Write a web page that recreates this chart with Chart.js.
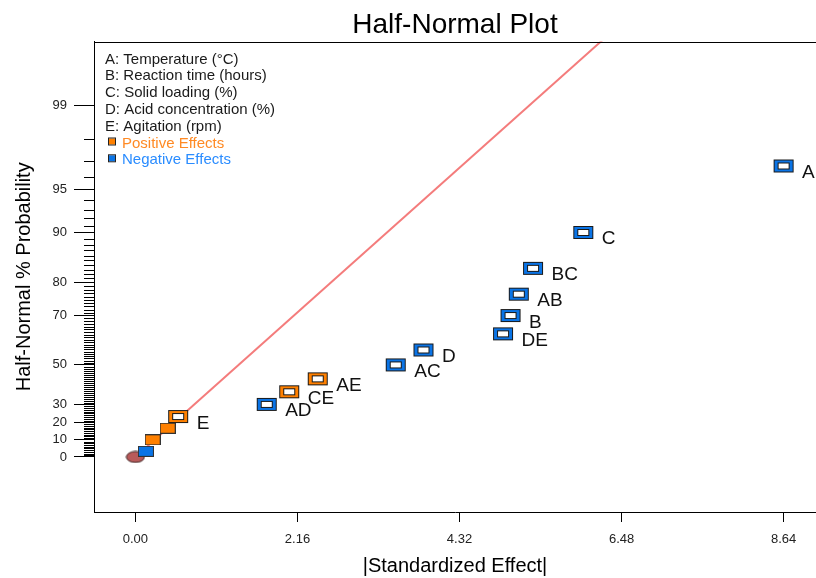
<!DOCTYPE html>
<html lang="en">
<head>
    <meta charset="UTF-8">
    <title>Half-Normal Plot</title>
    <script src="https://cdn.jsdelivr.net/npm/chart.js"></script>
    <style>
        body { margin: 0; background: #fff; }
        canvas { display: block; }
    </style>
</head>
<body>
    <canvas id="halfNormal" width="816" height="578"></canvas>

    <script>
        // effects (|standardized effect| and half-normal % probability)
        const effectNames = ['', '', '', 'E', 'AD', 'CE', 'AE', 'AC', 'D', 'DE', 'B', 'AB', 'BC', 'C', 'A'];
        const effectSize = [0.14, 0.23, 0.43, 0.57, 1.75, 2.05, 2.43, 3.47, 3.84, 4.90, 5.00, 5.11, 5.30, 5.97, 8.64];
        const effectProb = [3.3, 10.0, 16.7, 23.3, 30.0, 36.7, 43.3, 50.0, 56.7, 63.3, 70.0, 76.7, 83.3, 90.0, 96.7];
        const effectSign = ['-', '+', '+', '+', '-', '+', '+', '-', '-', '-', '-', '-', '-', '-', '-'];

        // error estimate at the origin
        const errorSize = [0.0];
        const errorProb = [0.0];

        // reference line
        const refLineSize = [0, 6.3];
        const refLineProb = [0, 99.8];

        const xTickValues = [0, 2.16, 4.32, 6.48, 8.64];
        const yTickLabels = [0, 10, 20, 30, 50, 70, 80, 90, 95, 99];

        const factorLegend = [
            'A: Temperature (°C)',
            'B: Reaction time (hours)',
            'C: Solid loading (%)',
            'D: Acid concentration (%)',
            'E: Agitation (rpm)'
        ];

        const FONT = '"Liberation Sans", Arial, sans-serif';
        const ORANGE = '#ff8000';
        const BLUE = '#0a74e6';

        // normal cdf (Abramowitz-Stegun) and half-normal quantile, p in %
        function normCdf(z) {
            const t = 1 / (1 + 0.3275911 * Math.abs(z) / Math.SQRT2);
            const y = 1 - (((((1.061405429 * t - 1.453152027) * t) + 1.421413741) * t - 0.284496736) * t + 0.254829592) * t * Math.exp(-z * z / 2);
            return z >= 0 ? 0.5 * (1 + y) : 0.5 * (1 - y);
        }
        function zOf(p) {
            const target = 0.5 + p / 200;
            let lo = 0, hi = 6;
            for (let i = 0; i < 60; i++) {
                const mid = (lo + hi) / 2;
                if (normCdf(mid) < target) lo = mid; else hi = mid;
            }
            return (lo + hi) / 2;
        }

        // marker images
        function openMarker(color) {
            const c = document.createElement('canvas');
            c.width = 22; c.height = 15;
            const g = c.getContext('2d');
            g.fillStyle = color;
            g.fillRect(1, 1, 20, 13);
            g.strokeStyle = '#1a1a1a';
            g.lineWidth = 1;
            g.strokeRect(1.5, 1.5, 19, 12);
            g.fillStyle = '#fff';
            g.fillRect(5, 4, 12, 7);
            g.strokeRect(5.5, 4.5, 11, 6);
            return c;
        }
        function filledMarker(color) {
            const c = document.createElement('canvas');
            c.width = 16; c.height = 11;
            const g = c.getContext('2d');
            g.fillStyle = color;
            g.fillRect(0, 0, 16, 11);
            g.strokeStyle = '#333';
            g.lineWidth = 1;
            g.strokeRect(0.5, 0.5, 15, 10);
            return c;
        }
        function ellipseMarker() {
            const c = document.createElement('canvas');
            c.width = 20; c.height = 13;
            const g = c.getContext('2d');
            g.beginPath();
            g.ellipse(10, 6.5, 9, 5.5, 0, 0, Math.PI * 2);
            g.fillStyle = '#b85a5a';
            g.fill();
            g.strokeStyle = '#3a2222';
            g.lineWidth = 1;
            g.stroke();
            return c;
        }
        const markers = {
            openPos: openMarker(ORANGE), openNeg: openMarker(BLUE),
            fillPos: filledMarker(ORANGE), fillNeg: filledMarker(BLUE),
            error: ellipseMarker()
        };

        // point labels, legend text, minor ticks and frame
        const decorations = {
            id: 'decorations',
            afterDraw(chart) {
                const ctx = chart.ctx;
                const area = chart.chartArea;
                const yScale = chart.scales.y;
                ctx.save();

                // top frame line
                ctx.strokeStyle = '#000';
                ctx.lineWidth = 1;
                ctx.beginPath();
                ctx.moveTo(area.left, Math.round(area.top) + 0.5);
                ctx.lineTo(area.right, Math.round(area.top) + 0.5);
                ctx.stroke();

                // minor probability ticks (every 1%)
                ctx.beginPath();
                for (let p = 1; p <= 98; p++) {
                    if (yTickLabels.includes(p)) continue;
                    const py = Math.round(yScale.getPixelForValue(zOf(p))) + 0.5;
                    ctx.moveTo(area.left - 10, py);
                    ctx.lineTo(area.left, py);
                }
                ctx.stroke();

                // effect labels
                const meta = chart.getDatasetMeta(1);
                ctx.font = '19px ' + FONT;
                ctx.fillStyle = '#111';
                ctx.textAlign = 'left';
                ctx.textBaseline = 'alphabetic';
                meta.data.forEach((pt, i) => {
                    if (effectNames[i]) ctx.fillText(effectNames[i], pt.x + 18.5, pt.y + 12);
                });

                // legend block
                ctx.font = '15px ' + FONT;
                const lx = 105, ly = 63.5, step = 16.8;
                factorLegend.forEach((t, i) => {
                    ctx.fillStyle = '#1a1a1a';
                    ctx.fillText(t, lx, ly + i * step);
                });
                [['Positive Effects', ORANGE, '#ff8a24'], ['Negative Effects', BLUE, '#2a8cff']].forEach((item, k) => {
                    const by = ly + (5 + k) * step;
                    ctx.fillStyle = item[1];
                    ctx.fillRect(109, by - 9, 6, 6);
                    ctx.strokeStyle = '#222';
                    ctx.strokeRect(108.5, by - 9.5, 7, 7);
                    ctx.fillStyle = item[2];
                    ctx.fillText(item[0], 122, by);
                });
                ctx.restore();
            }
        };

        const effectPoints = effectSize.map((x, i) => ({ x: x, y: zOf(effectProb[i]) }));
        const errorPoints = errorSize.map((x, i) => ({ x: x, y: zOf(errorProb[i]) }));
        const linePoints = refLineSize.map((x, i) => ({ x: x, y: zOf(refLineProb[i]) }));

        new Chart(document.getElementById('halfNormal'), {
            type: 'scatter',
            data: {
                datasets: [
                    {
                        type: 'line', data: linePoints, order: 3,
                        borderColor: '#f47c7c', borderWidth: 2, pointRadius: 0, fill: false
                    },
                    {
                        data: effectPoints, order: 1, pointRadius: 10,
                        pointStyle: ctx => {
                            const i = ctx.dataIndex;
                            const pos = effectSign[i] === '+';
                            if (effectNames[i]) return pos ? markers.openPos : markers.openNeg;
                            return pos ? markers.fillPos : markers.fillNeg;
                        }
                    },
                    {
                        data: errorPoints, order: 2, pointRadius: 10, pointStyle: markers.error
                    }
                ]
            },
            options: {
                responsive: false,
                animation: false,
                layout: { padding: 0, autoPadding: false },
                plugins: {
                    legend: { display: false },
                    tooltip: { enabled: false },
                    title: {
                        display: true, text: 'Half-Normal Plot', fullSize: false,
                        color: '#000', font: { family: FONT, size: 28, weight: 'normal' },
                        padding: { top: 8, bottom: 0 }
                    }
                },
                scales: {
                    x: {
                        type: 'linear', min: -0.552, max: 9.072,
                        afterFit: s => { s.height = 66; },
                        afterBuildTicks: s => { s.ticks = xTickValues.map(v => ({ value: v })); },
                        grid: { drawOnChartArea: false, tickLength: 10, tickColor: '#000' },
                        border: { display: true, color: '#000', width: 1 },
                        ticks: {
                            autoSkip: false, maxRotation: 0, padding: 10, color: '#222',
                            font: { family: FONT, size: 13 },
                            callback: v => v.toFixed(2)
                        },
                        title: {
                            display: true, text: '|Standardized Effect|', color: '#000',
                            font: { family: FONT, size: 20 }, padding: { top: 0, bottom: 0 }
                        }
                    },
                    y: {
                        type: 'linear', min: -0.403, max: 3.043,
                        afterFit: s => { s.width = 94; },
                        afterBuildTicks: s => { s.ticks = yTickLabels.map(p => ({ value: zOf(p) })); },
                        grid: { drawOnChartArea: false, tickLength: 20, tickColor: '#000' },
                        border: { display: true, color: '#000', width: 1 },
                        ticks: {
                            autoSkip: false, padding: 7, color: '#222',
                            font: { family: FONT, size: 13 },
                            callback: (v, i) => String(yTickLabels[i])
                        },
                        title: {
                            display: true, text: 'Half-Normal % Probability', color: '#000',
                            font: { family: FONT, size: 20 }, padding: { top: 12, bottom: 0 }
                        }
                    }
                }
            },
            plugins: [decorations]
        });
    </script>
</body>
</html>
